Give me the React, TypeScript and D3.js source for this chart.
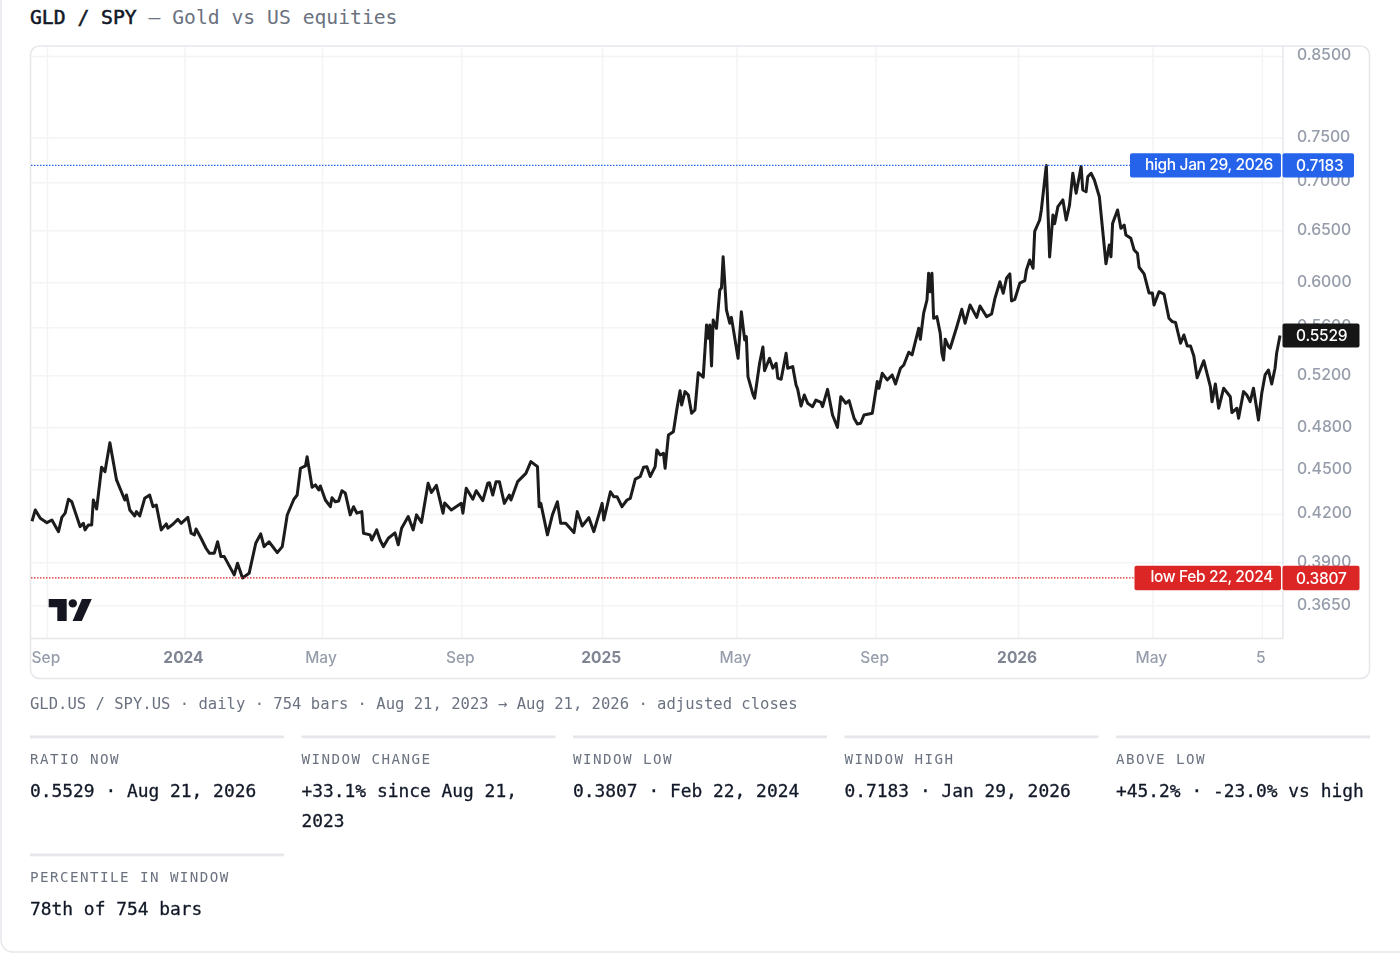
import { useEffect, useRef } from 'react';
import * as d3 from 'd3';

const MONO = '"DejaVu Sans Mono", monospace';
const SANS = 'Inter, "Noto Sans", sans-serif';

// trading-day index of each traced turning point, and the GLD/SPY close there
const bars2023 = [0, 2, 5, 9, 12, 16, 18, 20, 22, 24, 29, 31, 32, 34, 36, 37, 39, 42, 44, 47, 51, 56, 57, 59, 62, 63, 65, 68, 71, 73, 75, 78, 81, 82, 85, 88, 90];
const ratios2023 = [0.4154, 0.4227, 0.4173, 0.4145, 0.4162, 0.4088, 0.4179, 0.4206, 0.4297, 0.4281, 0.412, 0.4141, 0.4099, 0.413, 0.413, 0.4292, 0.4233, 0.4514, 0.4483, 0.4688, 0.4427, 0.4292, 0.4325, 0.4227, 0.4188, 0.4216, 0.4188, 0.4303, 0.4325, 0.4248, 0.4259, 0.4099, 0.4137, 0.411, 0.4135, 0.4166, 0.4141];

const bars2024 = [94, 96, 98, 99, 102, 105, 107, 110, 112, 114, 116, 122, 124, 127, 131, 135, 138, 140, 143, 148, 151, 154, 158, 160, 162, 165, 166, 169, 171, 173, 174, 177, 180, 181, 183, 185, 187, 189, 192, 194, 196, 199, 200, 204, 205, 208, 210, 212, 215, 219, 221, 223, 227, 230, 232, 235, 239, 241, 244, 248, 249, 253, 259, 260, 262, 266, 268, 272, 275, 276, 278, 280, 282, 285, 288, 289, 293, 298, 301, 305, 306, 307, 311, 314, 317, 319, 322, 327, 329, 332, 336, 339];
const ratios2024 = [0.4179, 0.4078, 0.4068, 0.4105, 0.4047, 0.3985, 0.3955, 0.3955, 0.4025, 0.3934, 0.3934, 0.3825, 0.3894, 0.3807, 0.3834, 0.4016, 0.4074, 0.3995, 0.4025, 0.3958, 0.3995, 0.4194, 0.4297, 0.4325, 0.4507, 0.4523, 0.4588, 0.4377, 0.4393, 0.4359, 0.4386, 0.4292, 0.4248, 0.4307, 0.4281, 0.4286, 0.4354, 0.4339, 0.4195, 0.4248, 0.4206, 0.4216, 0.4078, 0.4068, 0.4036, 0.4099, 0.4036, 0.3995, 0.4047, 0.408, 0.4006, 0.411, 0.4184, 0.4099, 0.4195, 0.4146, 0.4404, 0.4342, 0.439, 0.4206, 0.4272, 0.4227, 0.427, 0.4206, 0.4371, 0.4297, 0.4354, 0.4288, 0.4404, 0.4408, 0.4325, 0.4415, 0.4415, 0.427, 0.4325, 0.4292, 0.4415, 0.4472, 0.4553, 0.4518, 0.4248, 0.427, 0.4068, 0.4195, 0.4281, 0.4141, 0.4141, 0.4082, 0.4216, 0.4124, 0.4177, 0.4088];

const bars2025 = [344, 345, 349, 351, 353, 356, 359, 361, 364, 367, 369, 371, 373, 376, 377, 379, 381, 382, 384, 387, 389, 391, 392, 394, 396, 398, 400, 402, 405, 407, 408, 409, 410, 411, 413, 415, 416, 417, 418, 419, 421, 422, 426, 428, 430, 431, 432, 435, 436, 439, 441, 442, 445, 447, 449, 450, 452, 455, 456, 459, 461, 462, 464, 466, 468, 471, 473, 476, 477, 480, 483, 486, 488, 491, 493, 496, 498, 500, 502, 507, 510, 511, 513, 516, 519, 521, 524, 526, 529, 531, 535, 536, 538, 540, 541, 542, 543, 544, 546, 548, 549, 550, 551, 553, 554, 558, 561, 563, 566, 570, 572, 576, 579, 581, 584, 586, 588, 590, 591, 593];
const ratios2025 = [0.427, 0.4162, 0.4347, 0.4314, 0.4314, 0.4248, 0.4292, 0.4303, 0.4432, 0.445, 0.4514, 0.4518, 0.445, 0.4518, 0.4636, 0.46, 0.4612, 0.4507, 0.4743, 0.4768, 0.493, 0.5078, 0.4968, 0.5071, 0.5045, 0.4905, 0.493, 0.5221, 0.5185, 0.5619, 0.5505, 0.5619, 0.5275, 0.5662, 0.559, 0.593, 0.5948, 0.6241, 0.5991, 0.575, 0.5634, 0.5685, 0.5338, 0.5735, 0.5491, 0.5519, 0.5189, 0.505, 0.502, 0.5297, 0.5432, 0.5237, 0.5338, 0.5257, 0.5297, 0.5177, 0.5168, 0.5379, 0.5257, 0.527, 0.5123, 0.5089, 0.496, 0.5045, 0.4981, 0.4955, 0.5006, 0.4988, 0.4955, 0.5089, 0.4892, 0.48, 0.5032, 0.4981, 0.5001, 0.4868, 0.4825, 0.483, 0.4892, 0.4905, 0.515, 0.5097, 0.5216, 0.5163, 0.5203, 0.5131, 0.5257, 0.5283, 0.5388, 0.5366, 0.559, 0.5497, 0.5722, 0.5839, 0.6085, 0.5913, 0.6085, 0.5677, 0.5691, 0.5547, 0.538, 0.5324, 0.5497, 0.5435, 0.5421, 0.5604, 0.5756, 0.5634, 0.5795, 0.5685, 0.5785, 0.5691, 0.5715, 0.5854, 0.6005, 0.59, 0.6038, 0.6079, 0.583, 0.5845];

const bars2026 = [596, 599, 600, 602, 604, 605, 608, 609, 612, 614, 616, 617, 619, 622, 624, 626, 628, 630, 633, 634, 636, 637, 639, 641, 644, 648, 650, 651, 652, 655, 657, 659, 660, 663, 665, 667, 668, 671, 674, 676, 677, 680, 683, 686, 688, 690, 693, 695, 697, 699, 701, 703, 705, 707, 711, 712, 714, 716, 719, 723, 724, 727, 728, 731, 733, 735, 737, 740, 742, 744, 746, 748, 750, 751, 753];
const ratios2026 = [0.5992, 0.6016, 0.6115, 0.621, 0.6131, 0.649, 0.6604, 0.6707, 0.7183, 0.6239, 0.6656, 0.6567, 0.6741, 0.6811, 0.6604, 0.6757, 0.7097, 0.6881, 0.717, 0.6916, 0.6898, 0.7058, 0.7097, 0.7023, 0.6845, 0.6174, 0.6355, 0.6241, 0.657, 0.6707, 0.652, 0.6553, 0.6453, 0.642, 0.6306, 0.6274, 0.6141, 0.6078, 0.5902, 0.5902, 0.5795, 0.5914, 0.5893, 0.5677, 0.5648, 0.564, 0.5463, 0.5533, 0.5441, 0.5441, 0.5357, 0.5181, 0.5249, 0.5318, 0.511, 0.4993, 0.5131, 0.4943, 0.5098, 0.5031, 0.491, 0.4943, 0.4868, 0.5071, 0.5045, 0.4993, 0.5098, 0.4855, 0.5058, 0.5203, 0.5243, 0.5131, 0.5257, 0.5382, 0.5529];

const priceTicks = [0.85, 0.75, 0.7, 0.65, 0.6, 0.56, 0.52, 0.48, 0.45, 0.42, 0.39, 0.365];
const timeBars = [9, 92, 175, 259, 344, 425, 509, 595, 676, 742];
const timeLabels = ['Sep', '2024', 'May', 'Sep', '2025', 'May', 'Sep', '2026', 'May', '5'];

const HIGH = 0.7183;
const LOW = 0.3807;
const LAST = 0.5529;

const statLabels = ['RATIO NOW', 'WINDOW CHANGE', 'WINDOW LOW', 'WINDOW HIGH', 'ABOVE LOW', 'PERCENTILE IN WINDOW'];
const statValues = [
  ['0.5529 · Aug 21, 2026'],
  ['+33.1% since Aug 21,', '2023'],
  ['0.3807 · Feb 22, 2024'],
  ['0.7183 · Jan 29, 2026'],
  ['+45.2% · -23.0% vs high'],
  ['78th of 754 bars'],
];

const caption = 'GLD.US / SPY.US · daily · 754 bars · Aug 21, 2023 → Aug 21, 2026 · adjusted closes';

export default function App() {
  const svgRef = useRef<SVGSVGElement>(null);

  useEffect(() => {
    if (!svgRef.current) return;
    const svg = d3.select(svgRef.current);
    svg.selectAll('*').remove();

    const plot = { left: 31, right: 1283, top: 47, bottom: 638.5 };

    const x = d3.scaleLinear().domain([0, 753]).range([32, 1280]);
    const y = d3.scaleLog().domain([0.365, 0.85]).range([605.3, 56]);

    const points = [
      ...bars2023.map((b, i) => ({ bar: b, ratio: ratios2023[i] })),
      ...bars2024.map((b, i) => ({ bar: b, ratio: ratios2024[i] })),
      ...bars2025.map((b, i) => ({ bar: b, ratio: ratios2025[i] })),
      ...bars2026.map((b, i) => ({ bar: b, ratio: ratios2026[i] })),
    ];

    // page card, its top edge sits above the window
    svg.append('rect')
      .attr('x', 1).attr('y', -30).attr('width', 1430).attr('height', 982)
      .attr('rx', 12).attr('fill', '#fff').attr('stroke', '#e5e7eb').attr('stroke-width', 1.5);

    svg.append('rect')
      .attr('x', 30.5).attr('y', 46).attr('width', 1339).attr('height', 632.5)
      .attr('rx', 9).attr('fill', '#fff').attr('stroke', '#e5e7eb').attr('stroke-width', 1.5);

    const title = svg.append('text')
      .attr('x', 30).attr('y', 24)
      .style('font-family', MONO).style('font-size', '19.7px');
    title.append('tspan')
      .attr('fill', '#111827').attr('stroke', '#111827').attr('stroke-width', 0.55)
      .text('GLD / SPY');
    title.append('tspan').attr('fill', '#6b7280').text(' — Gold vs US equities');

    const defs = svg.append('defs');
    defs.append('filter').attr('id', 'soft')
      .attr('x', '-2%').attr('y', '-2%').attr('width', '104%').attr('height', '104%')
      .append('feGaussianBlur').attr('stdDeviation', 0.5);

    const chart = svg.append('g').attr('filter', 'url(#soft)');

    // Grid
    chart.append('g')
      .attr('transform', `translate(0,${plot.bottom})`)
      .call(d3.axisBottom(x).tickValues(timeBars).tickSize(-(plot.bottom - plot.top)).tickFormat(() => ''))
      .call((g) => g.select('.domain').remove())
      .selectAll('line').attr('stroke', '#f3f4f6').attr('stroke-width', 1.5);

    chart.append('g')
      .attr('transform', `translate(${plot.right},0)`)
      .call(d3.axisLeft(y).tickValues(priceTicks).tickSize(plot.right - plot.left).tickFormat(() => ''))
      .call((g) => g.select('.domain').remove())
      .selectAll('line').attr('stroke', '#f3f4f6').attr('stroke-width', 1.5);

    // Plot frame
    chart.append('line')
      .attr('x1', plot.right).attr('x2', plot.right).attr('y1', plot.top).attr('y2', plot.bottom)
      .attr('stroke', '#e5e7eb').attr('stroke-width', 1.5);
    chart.append('line')
      .attr('x1', plot.left).attr('x2', plot.right).attr('y1', plot.bottom).attr('y2', plot.bottom)
      .attr('stroke', '#e5e7eb').attr('stroke-width', 1.5);

    // Axes
    const xAxis = chart.append('g')
      .attr('transform', `translate(0,${plot.bottom})`)
      .call(
        d3.axisBottom(x).tickValues(timeBars).tickSize(0).tickPadding(13)
          .tickFormat((_, i) => timeLabels[i])
      );
    xAxis.select('.domain').remove();
    xAxis.selectAll('text')
      .attr('dx', '-1.5')
      .style('font-family', SANS).style('font-size', '15.5px')
      .attr('fill', (_, i) => (/^\d{4}$/.test(timeLabels[i]) ? '#7f8593' : '#969daa'))
      .attr('font-weight', (_, i) => (/^\d{4}$/.test(timeLabels[i]) ? 700 : 500));

    const yAxis = chart.append('g')
      .attr('transform', `translate(${plot.right},0)`)
      .call(d3.axisRight(y).tickValues(priceTicks).tickSize(0).tickPadding(14).tickFormat(d3.format('.4f')));
    yAxis.select('.domain').remove();
    yAxis.selectAll('text')
      .attr('dy', '0.24em')
      .attr('fill', '#969daa')
      .attr('font-weight', 500)
      .style('font-family', SANS).style('font-size', '15.8px');

    const line = d3.line<{ bar: number; ratio: number }>()
      .x((d) => x(d.bar))
      .y((d) => y(d.ratio));

    chart.append('path')
      .datum(points)
      .attr('fill', 'none')
      .attr('stroke', '#1a1a1a')
      .attr('stroke-width', 3)
      .attr('stroke-linejoin', 'round')
      .attr('d', line);

    // TradingView mark
    const logo = chart.append('g').attr('fill', '#131722');
    logo.append('path').attr('d', 'M48.7 599H66.7V621H57.3V607.3H48.7Z');
    logo.append('circle').attr('cx', 72.8).attr('cy', 603.4).attr('r', 4.2);
    logo.append('path').attr('d', 'M82 599H91.8L81.8 621H72.6Z');

    // Window high and low price lines, with their tags on the scale
    const priceLines = [
      { value: HIGH, color: '#2563eb', tagLeft: 1130, tagRight: 1354, label: 'high Jan 29, 2026' },
      { value: LOW, color: '#dc2626', tagLeft: 1134.5, tagRight: 1359.5, label: 'low Feb 22, 2024' },
    ];
    priceLines.forEach((p) => {
      const cy = y(p.value);
      svg.append('line')
        .attr('x1', plot.left).attr('x2', p.tagLeft)
        .attr('y1', cy).attr('y2', cy)
        .attr('stroke', p.color).attr('stroke-width', 1.2).attr('stroke-dasharray', '1.5,1.5');
      chart.append('rect')
        .attr('x', p.tagLeft).attr('y', cy - 12.2).attr('width', 1281 - p.tagLeft).attr('height', 24.4)
        .attr('rx', 2).attr('fill', p.color);
      chart.append('rect')
        .attr('x', 1282.5).attr('y', cy - 12.2).attr('width', p.tagRight - 1282.5).attr('height', 24.4)
        .attr('rx', 2).attr('fill', p.color);
      chart.append('text')
        .attr('x', 1273).attr('y', cy + 4.4).attr('text-anchor', 'end').attr('fill', '#fff')
        .attr('font-weight', 500).style('letter-spacing', '-0.35px')
        .style('font-family', SANS).style('font-size', '15.5px').text(p.label);
      chart.append('text')
        .attr('x', 1296).attr('y', cy + 5.6).attr('fill', '#fff')
        .attr('font-weight', 500).style('letter-spacing', '-0.2px')
        .style('font-family', SANS).style('font-size', '15.5px').text(d3.format('.4f')(p.value));
    });
    const lastY = y(LAST);
    chart.append('rect')
      .attr('x', 1282.5).attr('y', lastY - 12).attr('width', 77).attr('height', 24)
      .attr('rx', 2).attr('fill', '#151515');
    chart.append('text')
      .attr('x', 1296).attr('y', lastY + 5.6).attr('fill', '#fff')
      .attr('font-weight', 500).style('letter-spacing', '-0.2px')
      .style('font-family', SANS).style('font-size', '15.5px').text(d3.format('.4f')(LAST));

    svg.append('text')
      .attr('x', 30).attr('y', 709).attr('fill', '#6b7280')
      .style('font-family', MONO).style('font-size', '15.55px')
      .text(caption);

    // Stat cells, five to a row
    statLabels.forEach((label, i) => {
      const cellX = 30 + (i % 5) * 271.5;
      const cellY = 735.5 + Math.floor(i / 5) * 118;
      svg.append('rect')
        .attr('x', cellX).attr('y', cellY).attr('width', 254).attr('height', 2.8)
        .attr('fill', '#e5e7eb');
      svg.append('text')
        .attr('x', cellX).attr('y', cellY + 28.5).attr('fill', '#6b7280')
        .style('font-family', MONO).style('font-size', '14.2px').style('letter-spacing', '1.45px')
        .text(label);
      statValues[i].forEach((row, r) => {
        svg.append('text')
          .attr('x', cellX).attr('y', cellY + 61 + r * 30).attr('fill', '#111827')
          .attr('stroke', '#111827').attr('stroke-width', 0.3)
          .style('font-family', MONO).style('font-size', '17.9px')
          .text(row);
      });
    });
  }, []);

  return (
    <svg
      ref={svgRef}
      width={1400}
      height={955}
      style={{ position: 'absolute', left: 0, top: 0, display: 'block' }}
    />
  );
}
